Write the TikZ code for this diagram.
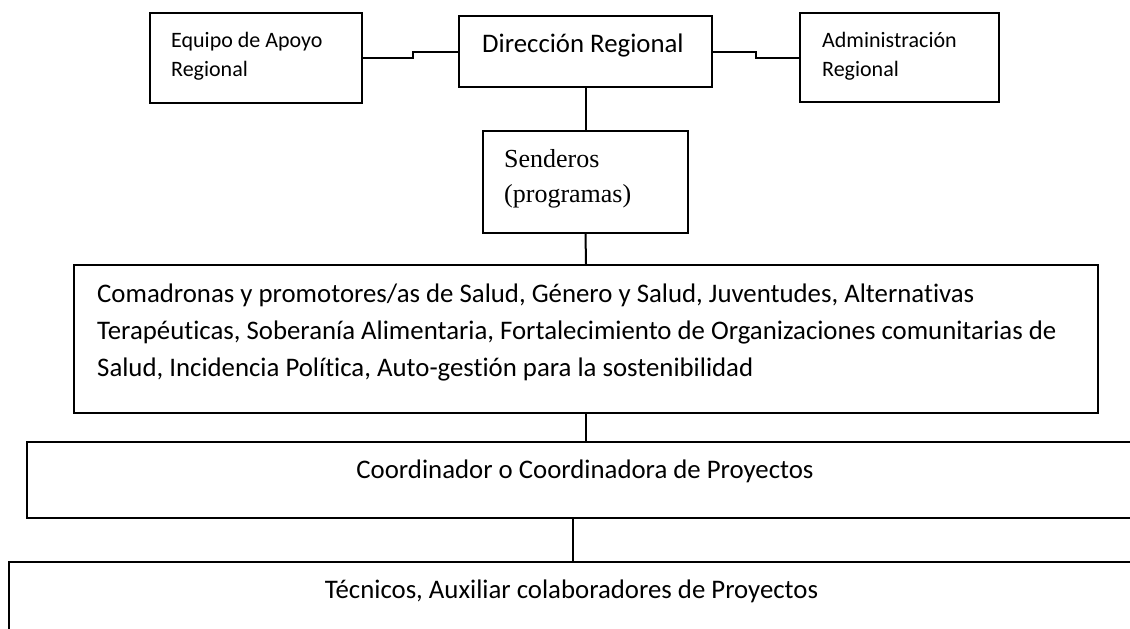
\documentclass[tikz,border=0pt]{standalone}
\usepackage{fontspec}
\setmainfont{Carlito}[Ligatures={NoCommon,NoContextual}]
\newfontfamily\timesf{Liberation Serif}
\begin{document}
\begin{tikzpicture}[x=1pt,y=-1pt,
  box/.style={draw, line width=1.8pt, rectangle, inner sep=0pt},
  link/.style={line width=2pt},
  smalltxt/.style={font=\fontsize{22}{29}\selectfont, align=left, anchor=base west, inner sep=0pt},
  bigtxt/.style={font=\fontsize{26.8}{37}\selectfont, align=left, anchor=base west, inner sep=0pt},
  sertxt/.style={font=\timesf\fontsize{26}{35}\selectfont, align=left, anchor=base west, inner sep=0pt},
  centxt/.style={font=\fontsize{26.8}{37}\selectfont, anchor=base, inner sep=0pt}]
\useasboundingbox (0,0) rectangle (1130,629);
\clip (0,0) rectangle (1130,629);
% boxes
\node[box, minimum width=212pt, minimum height=90pt] (eq) at (256,58) {};
\node[box, minimum width=253pt, minimum height=71pt] (dir) at (585.5,51.5) {};
\node[box, minimum width=199pt, minimum height=89pt] (adm) at (899.5,57.5) {};
\node[box, minimum width=205pt, minimum height=102pt] (sen) at (585.5,182) {};
\node[box, minimum width=1024pt, minimum height=148pt] (big) at (586,339) {};
\node[box, minimum width=1116pt, minimum height=76pt] (coord) at (585,480) {};
\node[box, minimum width=1125pt, minimum height=138pt] (tec) at (571.5,631) {};
% texts (base anchor = baseline of last line)
\node[smalltxt] (eqt) at (171,76) {Equipo de Apoyo\\Regional};
\node[bigtxt] (dirt) at (482,52) {Dirección Regional};
\node[smalltxt] (admt) at (822,76) {Administración\\Regional};
\node[sertxt] (sent) at (504,202) {Senderos\\(programas)};
\node[bigtxt] (bigt) at (97,376) {Comadronas y promotores/as de Salud, Género y Salud, Juventudes, Alternativas\\Terapéuticas, Soberanía Alimentaria, Fortalecimiento de Organizaciones comunitarias de\\Salud, Incidencia Política, Auto-gestión para la sostenibilidad};
\node[centxt] (coordt) at (585,478) {Coordinador o Coordinadora de Proyectos};
\node[centxt] (tect) at (571.5,598) {Técnicos, Auxiliar colaboradores de Proyectos};
% connectors
\draw[link] (eq.east) -- ++(50,0) |- (dir.west);
\draw[link] (dir.east) -- ++(43,0) |- (adm.west);
\draw[link] (dir.south) -- (sen.north);
\draw[link] (sen.south) -- (big.north);
\draw[link] (big.south) -- (big.south |- coord.north);
\draw[link] (573,518) coordinate (c1) -- (c1 |- tec.north);
\end{tikzpicture}
\end{document}
